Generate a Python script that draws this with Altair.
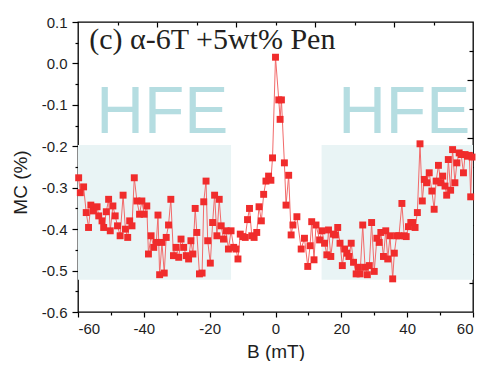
import altair as alt
import pandas as pd

# ---- data ----
B = [-59.8, -59.3, -58.3, -57.5, -56.8, -56.1, -55.3, -54.2, -53.7, -52.7,
     -52.2, -51.4, -50.7, -50.2, -49.4, -48.7, -48.0, -47.2, -46.3, -45.6,
     -44.9, -44.3, -43.6, -42.9, -42.1, -41.3, -40.6, -39.9, -39.1, -38.6,
     -37.8, -37.0, -36.2, -35.7, -35.2, -34.5, -33.8, -33.2, -32.5, -31.8,
     -31.0, -30.2, -29.4, -28.7, -27.9, -27.1, -26.4, -25.7, -25.1, -24.4,
     -23.9, -23.1, -22.3, -21.8, -21.1, -20.6, -19.8, -19.1, -18.5, -17.8,
     -17.1, -16.5, -15.8, -15.0, -14.3, -13.5, -12.7, -12.0, -11.4, -10.7,
     -9.9, -9.2, -8.5, -7.9, -7.2, -6.5, -5.7, -5.0, -4.3, -3.6,
     -2.9, -2.1, -1.4, -0.9, 0.0, 1.0, 1.4, 1.8, 2.7, 3.2,
     4.0, 4.75, 5.3, 6.5, 7.8, 8.8, 9.8, 10.5, 11.0, 11.7,
     12.3, 13.4, 14.1, 14.9, 15.6, 16.1, 16.8, 17.6, 18.2, 18.9,
     19.6, 20.3, 21.0, 21.7, 22.3, 23.0, 23.7, 24.5, 25.2, 25.7,
     26.5, 27.2, 27.9, 28.5, 29.2, 30.0, 30.8, 31.5, 32.0, 32.8,
     33.5, 34.1, 34.8, 35.6, 36.1, 36.8, 37.5, 38.4, 39.1, 39.7,
     40.4, 41.1, 41.7, 42.4, 43.1, 43.9, 44.6, 45.2, 45.9, 46.7,
     47.5, 48.2, 48.8, 49.5, 50.2, 50.8, 51.5, 52.0, 52.5, 53.2,
     53.8, 54.5, 55.1, 55.8, 56.4, 57.1, 57.6, 58.3, 58.9, 59.3, 59.7]
MC = [-0.276, -0.312, -0.298, -0.360, -0.396, -0.342, -0.356, -0.346, -0.368, -0.380,
      -0.396, -0.358, -0.328, -0.404, -0.344, -0.368, -0.392, -0.416, -0.318, -0.400,
      -0.420, -0.380, -0.392, -0.276, -0.332, -0.364, -0.332, -0.364, -0.344, -0.460,
      -0.416, -0.444, -0.432, -0.366, -0.510, -0.432, -0.506, -0.420, -0.390, -0.328,
      -0.464, -0.444, -0.468, -0.424, -0.444, -0.464, -0.472, -0.428, -0.460, -0.350,
      -0.408, -0.508, -0.506, -0.334, -0.284, -0.428, -0.482, -0.384, -0.318, -0.416,
      -0.328, -0.392, -0.424, -0.404, -0.448, -0.404, -0.444, -0.448, -0.472, -0.412,
      -0.418, -0.420, -0.377, -0.350, -0.416, -0.420, -0.408, -0.346, -0.380, -0.316,
      -0.284, -0.272, -0.282, -0.228, 0.015, -0.088, -0.135, -0.088, -0.240, -0.342,
      -0.270, -0.414, -0.390, -0.370, -0.448, -0.422, -0.490, -0.440, -0.382, -0.474,
      -0.390, -0.426, -0.404, -0.434, -0.462, -0.402, -0.466, -0.412, -0.414, -0.396,
      -0.434, -0.488, -0.448, -0.458, -0.466, -0.434, -0.480, -0.508, -0.492, -0.508,
      -0.390, -0.492, -0.510, -0.488, -0.384, -0.502, -0.422, -0.432, -0.408, -0.466,
      -0.404, -0.472, -0.416, -0.520, -0.458, -0.416, -0.416, -0.338, -0.416, -0.418,
      -0.394, -0.384, -0.384, -0.396, -0.360, -0.194, -0.332, -0.280, -0.288, -0.264,
      -0.308, -0.352, -0.284, -0.246, -0.288, -0.272, -0.296, -0.318, -0.232, -0.306,
      -0.208, -0.288, -0.240, -0.216, -0.220, -0.264, -0.220, -0.224, -0.222, -0.322, -0.226]

# shaded HFE regions
region_x0 = [-60, 14]
region_x1 = [-13.5, 60]
region_y0 = [-0.522, -0.522]
region_y1 = [-0.197, -0.197]

# annotations
hfe_text = ["HFE", "HFE"]
hfe_x = [-34.4, 39.1]
hfe_y = [-0.168, -0.168]
panel_text = ["(c) \u03b1-6T +5wt% Pen"]
panel_x = [-56.6]
panel_y = [0.034]

# tick values
x_major = [-60, -40, -20, 0, 20, 40, 60]
x_minor = [-50, -30, -10, 10, 30, 50]
y_major = [-0.6, -0.5, -0.4, -0.3, -0.2, -0.1, 0.0, 0.1]
y_minor = [-0.55, -0.45, -0.35, -0.25, -0.15, -0.05, 0.05]
top_major = [-36, -12, 12, 36]
top_minor = [-48, -24, 0, 24, 48]
right_major = [-0.04, -0.18, -0.32, -0.46]
right_minor = [0.03, -0.11, -0.25, -0.39, -0.53]

df = pd.DataFrame({"B": B, "MC": MC})
regions = pd.DataFrame({"x0": region_x0, "x1": region_x1, "y0": region_y0, "y1": region_y1})
hfe = pd.DataFrame({"t": hfe_text, "x": hfe_x, "y": hfe_y})
panel = pd.DataFrame({"t": panel_text, "x": panel_x, "y": panel_y})

xs = alt.Scale(domain=[-60, 60], nice=False, zero=False)
ys = alt.Scale(domain=[-0.6, 0.1], nice=False, zero=False)
FONT = "Liberation Sans"
INK = "#1e1e1e"

def tick_axis(orient, values, size, offset=0):
    return alt.Axis(orient=orient, values=values, tickSize=size, tickWidth=1.2,
                    tickColor="#000", offset=offset, labels=False, domain=False,
                    grid=False, title=None)

ax_bottom = alt.Axis(orient="bottom", values=x_major, tickSize=5, tickWidth=1.2,
                     tickColor="#000", domain=False, grid=False,
                     labelFont=FONT, labelFontSize=15, labelColor=INK, labelPadding=4,
                     labelExpr="datum.value < 0 ? '-' + format(-datum.value, 'd') : format(datum.value, 'd')",
                     title="B (mT)", titleFont=FONT, titleFontSize=19,
                     titleFontWeight="normal", titleColor=INK,
                     titleBaseline="alphabetic", titleY=45)
ax_left = alt.Axis(orient="left", values=y_major, tickSize=6, tickWidth=1.2,
                   tickColor="#000", domain=False, grid=False,
                   labelFont=FONT, labelFontSize=15, labelColor=INK, labelPadding=5,
                   labelExpr="datum.value < -0.00001 ? '-' + format(-datum.value, '.1f') : format(abs(datum.value), '.1f')",
                   title="MC (%)", titleFont=FONT, titleFontSize=19,
                   titleFontWeight="normal", titleColor=INK, titleX=-48, titleY=160)

rect = alt.Chart(regions).mark_rect(color="#e9f4f5").encode(
    x=alt.X("x0:Q", scale=xs, axis=ax_bottom),
    x2="x1:Q",
    y=alt.Y("y0:Q", scale=ys, axis=ax_left),
    y2="y1:Q",
)

line = alt.Chart(df).mark_line(color="#f26a6a", strokeWidth=1).encode(
    x=alt.X("B:Q", scale=xs, axis=tick_axis("bottom", x_minor, 3)),
    y=alt.Y("MC:Q", scale=ys, axis=tick_axis("left", y_minor, 3)),
    order="B:Q",
)

points = alt.Chart(df).mark_point(shape="square", filled=True, size=48,
                                  color="#f02c2c", opacity=1).encode(
    x=alt.X("B:Q", scale=xs, axis=tick_axis("top", top_major, 5, -5)),
    y=alt.Y("MC:Q", scale=ys, axis=tick_axis("right", right_major, 6, -6)),
)

hfe_layer = alt.Chart(hfe).mark_text(font=FONT, fontSize=66, color="#b5dde1",
                                     align="center", baseline="alphabetic").encode(
    x=alt.X("x:Q", scale=xs, axis=tick_axis("top", top_minor, 3, -3)),
    y=alt.Y("y:Q", scale=ys, axis=tick_axis("right", right_minor, 4, -4)),
    text="t:N",
)

panel_layer = alt.Chart(panel).mark_text(font="Liberation Serif", fontSize=30, color="#231f20",
                                         align="left", baseline="alphabetic").encode(
    x=alt.X("x:Q", scale=xs, axis=None),
    y=alt.Y("y:Q", scale=ys, axis=None),
    text="t:N",
)

chart = alt.layer(rect, hfe_layer, line, points, panel_layer).resolve_axis(
    x="independent", y="independent"
).properties(
    width=395, height=290,
    autosize=alt.AutoSizeParams(type="none"),
    padding={"left": 70, "top": 14, "right": 8, "bottom": 49},
    background="white",
).configure_view(stroke="#000", strokeWidth=1.3)

chart.save("out.html", embed_options={"renderer": "svg", "actions": False})
